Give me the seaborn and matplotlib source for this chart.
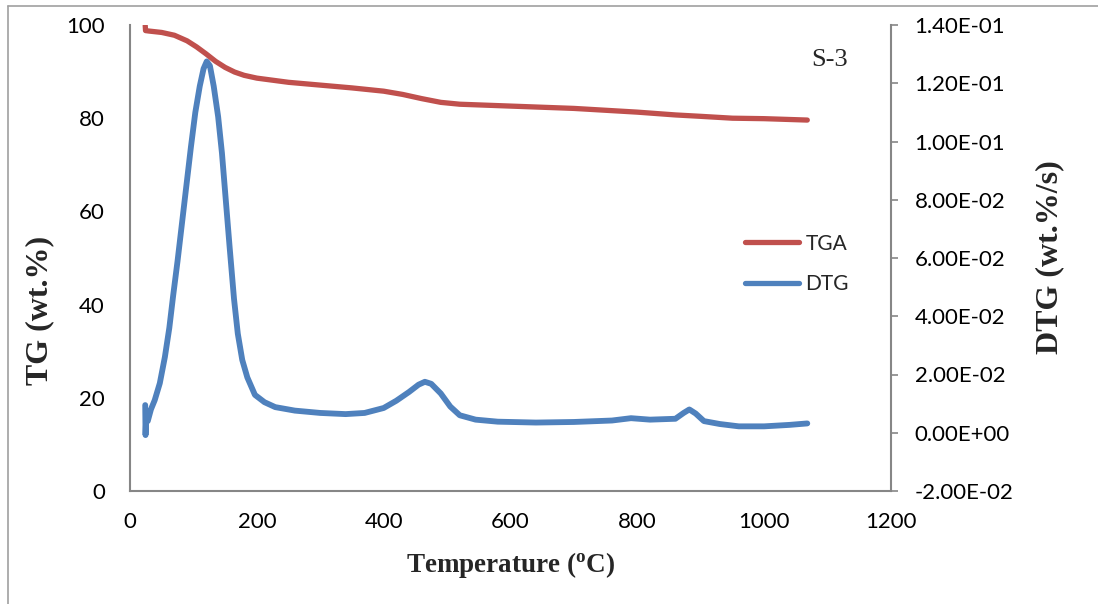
import matplotlib
matplotlib.use("Agg")
import matplotlib.pyplot as plt
import seaborn as sns
import pandas as pd
from matplotlib.lines import Line2D

# ---- data ----
tga_temp = [24, 24.5, 30, 50, 70, 90, 105, 120, 135, 150, 165, 180, 200, 250, 300,
            350, 400, 430, 460, 490, 520, 600, 700, 800, 860, 900, 950, 1000, 1068]
tga_val = [99.9, 98.8, 98.7, 98.4, 97.8, 96.6, 95.3, 93.8, 92.2, 90.9, 89.9, 89.2, 88.6,
           87.7, 87.1, 86.5, 85.8, 85.1, 84.2, 83.4, 83.0, 82.6, 82.1, 81.3, 80.7, 80.4,
           80.0, 79.9, 79.6]

dtg_temp = [24, 24.5, 25.5, 28, 33, 39, 47, 55, 62, 68, 75, 82, 89, 96, 103, 110, 116,
            121, 126, 132, 139, 145, 151, 157, 164, 170, 177, 185, 197, 212, 229, 260,
            300, 340, 370, 400, 420, 440, 455, 465, 475, 490, 505, 520, 545, 580, 640,
            700, 760, 790, 820, 860, 873, 882, 892, 905, 930, 960, 1000, 1040, 1068]
dtg_val = [0.0095, -0.0008, 0.0050, 0.0040, 0.0080, 0.0112, 0.0170, 0.0260, 0.0360,
           0.0470, 0.0590, 0.0720, 0.0850, 0.0980, 0.1100, 0.1190, 0.1250, 0.1275,
           0.1260, 0.1190, 0.1085, 0.0960, 0.0800, 0.0640, 0.0460, 0.0340, 0.0250,
           0.0190, 0.0130, 0.0105, 0.0088, 0.0076, 0.0068, 0.0064, 0.0068, 0.0085,
           0.0110, 0.0140, 0.0165, 0.0175, 0.0168, 0.0135, 0.0090, 0.0060, 0.0045,
           0.0038, 0.0035, 0.0037, 0.0042, 0.0050, 0.0045, 0.0048, 0.0068, 0.0080,
           0.0066, 0.0040, 0.0030, 0.0022, 0.0022, 0.0027, 0.0032]

x_ticks = [0, 200, 400, 600, 800, 1000, 1200]
y1_ticks = [0, 20, 40, 60, 80, 100]
y2_ticks = [-0.02, 0.0, 0.02, 0.04, 0.06, 0.08, 0.10, 0.12, 0.14]
y2_labels = ["-2.00E-02", "0.00E+00", "2.00E-02", "4.00E-02", "6.00E-02",
             "8.00E-02", "1.00E-01", "1.20E-01", "1.40E-01"]

tga_df = pd.DataFrame({"Temperature": tga_temp, "TG": tga_val})
dtg_df = pd.DataFrame({"Temperature": dtg_temp, "DTG": dtg_val})

sns.set_style("white")
plt.rcParams["font.family"] = ["Lato", "DejaVu Sans"]
plt.rcParams["mathtext.fontset"] = "custom"
plt.rcParams["mathtext.rm"] = "Liberation Serif"
plt.rcParams["mathtext.bf"] = "Liberation Serif:bold"

RED = "#C0504D"
BLUE = "#4F81BD"
GRAY = "#868686"

fig = plt.figure(figsize=(10.98, 6.04), dpi=100)
W, H = 1098, 604
ax = fig.add_axes([130 / W, 1 - 491 / H, (891 - 130) / W, (491 - 25) / H])
ax2 = ax.twinx()

sns.lineplot(data=dtg_df, x="Temperature", y="DTG", ax=ax2, color=BLUE,
             linewidth=4.2, label="DTG", legend=False, sort=False)
sns.lineplot(data=tga_df, x="Temperature", y="TG", ax=ax, color=RED,
             linewidth=3.8, label="TGA", legend=False, sort=False)
for line in ax.lines + ax2.lines:
    line.set_solid_joinstyle("round")
    line.set_solid_capstyle("round")
ax.set_zorder(ax2.get_zorder() + 1)
ax.patch.set_visible(False)

ax.set_xlim(0, 1200)
ax.set_ylim(0, 100)
ax2.set_ylim(-0.02, 0.14)
ax.set_xticks(x_ticks)
ax.set_xticklabels([str(t) for t in x_ticks])
ax.set_yticks(y1_ticks)
ax.set_yticklabels([str(t) for t in y1_ticks])
ax2.set_yticks(y2_ticks)
ax2.set_yticklabels(y2_labels)

for a in (ax, ax2):
    a.set_xlabel("")
    a.set_ylabel("")
    a.grid(False)
    for s in a.spines.values():
        s.set_visible(False)

ax.spines["left"].set_visible(True)
ax.spines["bottom"].set_visible(True)
ax2.spines["right"].set_visible(True)
for s in (ax.spines["left"], ax.spines["bottom"], ax2.spines["right"]):
    s.set_color(GRAY)
    s.set_linewidth(1.5)

ax.tick_params(axis="y", length=0, pad=18, labelsize=16, colors="black")
ax.tick_params(axis="x", length=0, pad=15, labelsize=16, colors="black")
ax2.tick_params(axis="y", direction="out", length=5, width=1.2, color=GRAY,
                pad=12, labelsize=16, labelcolor="black")

fig.text(40 / W, 1 - 310 / H, "TG (wt.%)", rotation=90, ha="center", va="center",
         fontsize=23, fontweight="bold", family="Liberation Serif")
fig.text(1050 / W, 1 - 257 / H, "DTG (wt.%/s)", rotation=90, ha="center", va="center",
         fontsize=23, fontweight="bold", family="Liberation Serif")
fig.text(511 / W, 1 - 565 / H, r"Temperature ($\mathbf{^{o}}$C)", ha="center",
         va="center", fontsize=19.5, fontweight="bold", family="Liberation Serif")
fig.text(830 / W, 1 - 60 / H, "S-3", ha="center", va="center", fontsize=19,
         family="Liberation Serif")

handles = [Line2D([], [], color=RED, linewidth=3.8, solid_capstyle="round"),
           Line2D([], [], color=BLUE, linewidth=3.8, solid_capstyle="round")]
fig.legend(handles, ["TGA", "DTG"], loc="center left",
           bbox_to_anchor=(745 / W, 1 - 264 / H), frameon=False, fontsize=15,
           handlelength=2.6, handletextpad=0.3, labelspacing=1.0,
           borderpad=0, borderaxespad=0)

# outer chart frame (top and left edges visible in reference)
fig.add_artist(Line2D([8 / W, 8 / W], [0, 1 - 6 / H], color="#A0A0A0", linewidth=1.2,
                      transform=fig.transFigure))
fig.add_artist(Line2D([8 / W, 1], [1 - 6 / H, 1 - 6 / H], color="#A0A0A0",
                      linewidth=1.2, transform=fig.transFigure))

fig.savefig("out.png", dpi=100)
